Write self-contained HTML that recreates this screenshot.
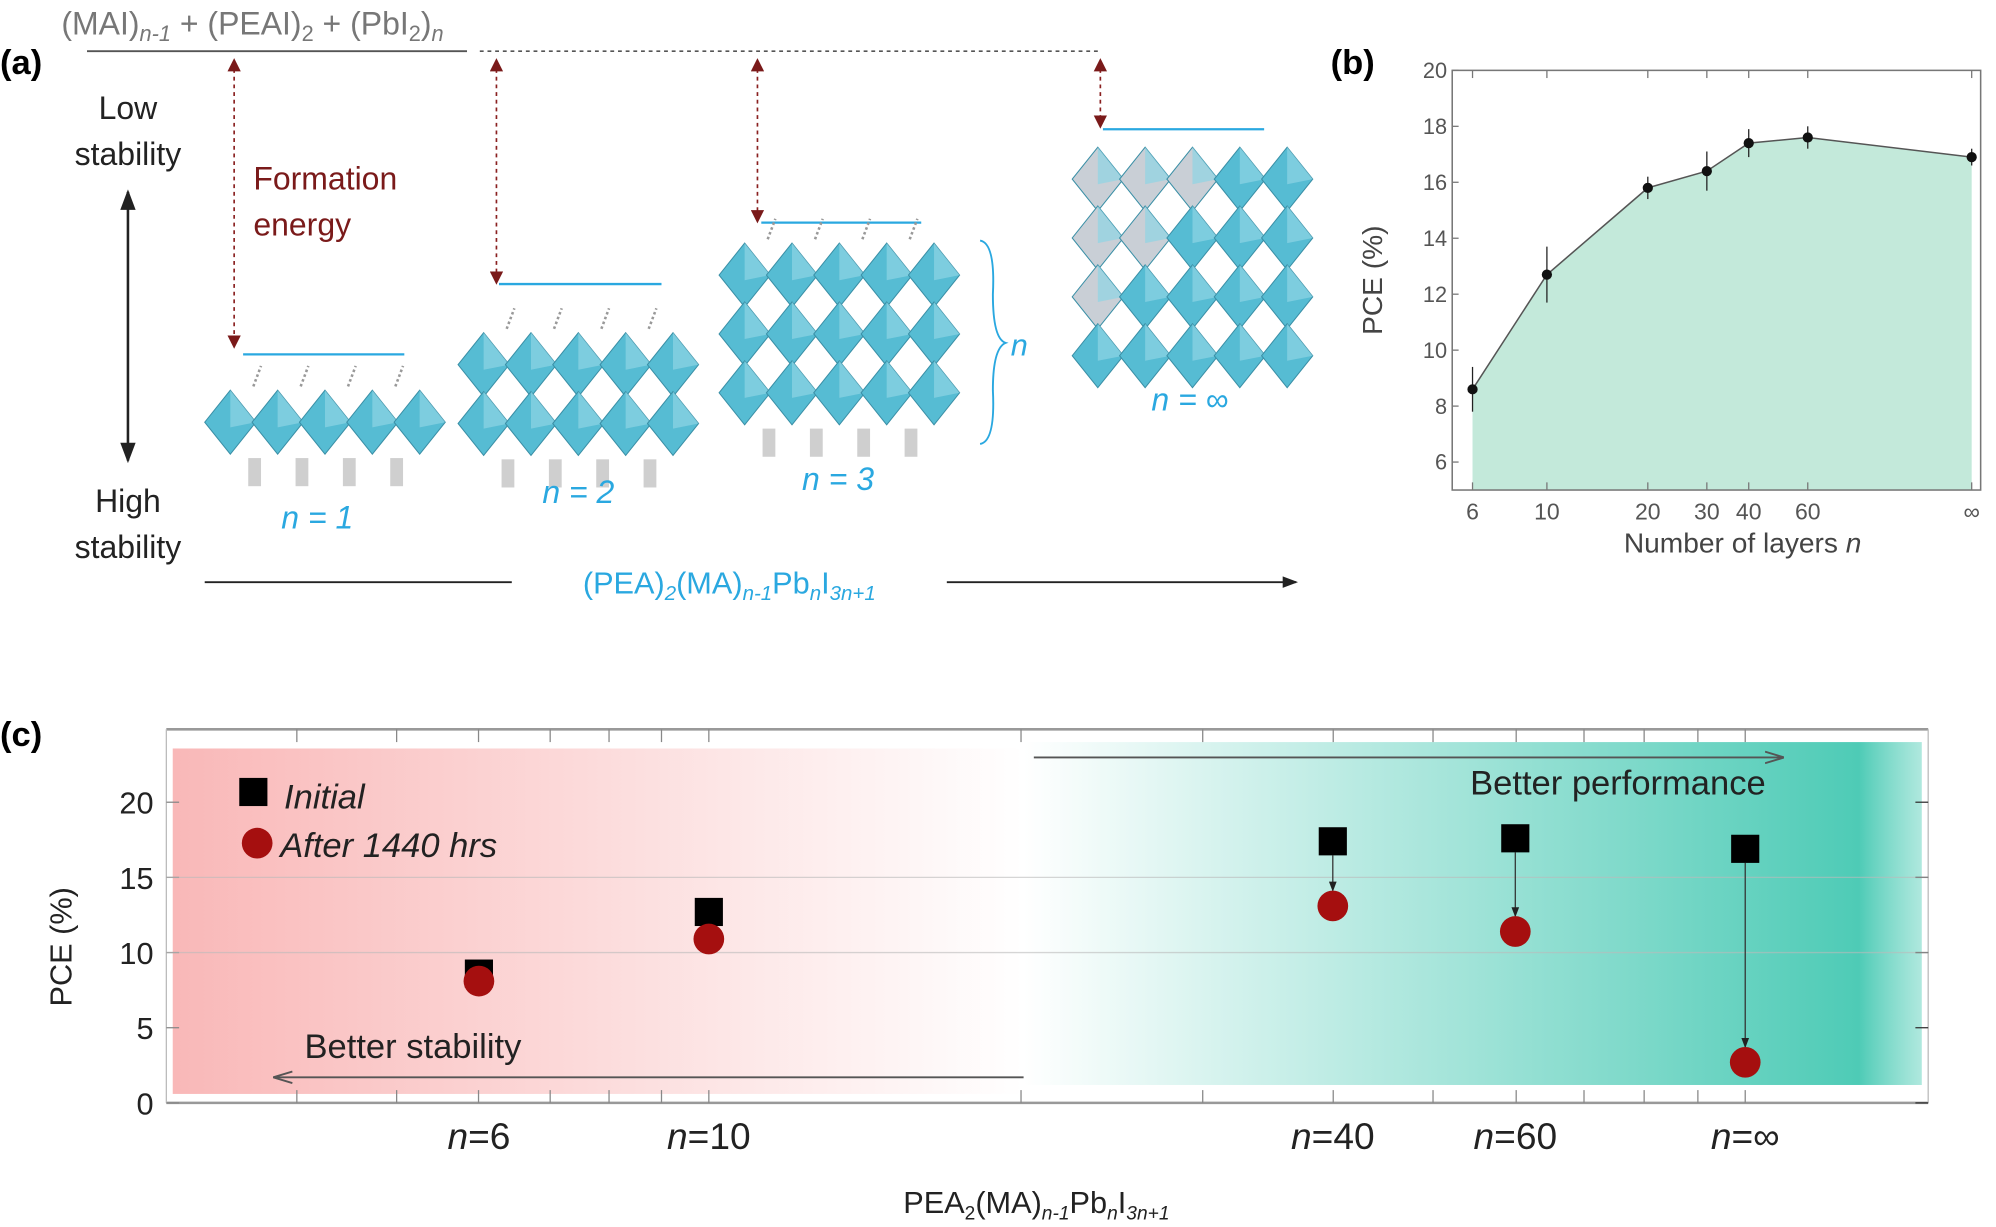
<!DOCTYPE html>
<html><head><meta charset="utf-8"><style>
html,body{margin:0;padding:0;background:#fff;}
svg{display:block;font-family:"Liberation Sans",sans-serif;}
</style></head><body>
<svg id="fig" width="1996" height="1227" viewBox="0 0 1560 959" preserveAspectRatio="none">
<defs>
<linearGradient id="redg" x1="0" x2="1" y1="0" y2="0"><stop offset="0" stop-color="#f9b8b8"/><stop offset="1" stop-color="#ffffff"/></linearGradient>
<linearGradient id="greeng" x1="0" x2="1" y1="0" y2="0"><stop offset="0" stop-color="#ffffff"/><stop offset="0.93" stop-color="#4ecbb6"/><stop offset="1" stop-color="#7ad9c8" stop-opacity="0.6"/></linearGradient>
<marker id="arrDR" markerWidth="8" markerHeight="8" refX="6" refY="4" orient="auto-start-reverse"><path d="M0,0 L8,4 L0,8 Z" fill="#7a1a1a"/></marker>
<marker id="arrK" markerWidth="8" markerHeight="8" refX="7" refY="4" orient="auto-start-reverse"><path d="M0,1 L8,4 L0,7 Z" fill="#222"/></marker>
<marker id="arrG" markerWidth="10" markerHeight="8" refX="9" refY="4" orient="auto"><path d="M0,1 L10,4 L0,7" fill="none" stroke="#555" stroke-width="1"/></marker>
</defs>

<!-- Panel a -->
<g>
<text x="0" y="58" font-size="27" font-weight="bold">(a)</text>
<text x="48" y="27" font-size="25" fill="#777">(MAI)<tspan font-size="17" font-style="italic" dy="5">n-1</tspan><tspan dy="-5"> + (PEAI)</tspan><tspan font-size="17" dy="5">2</tspan><tspan dy="-5"> + (PbI</tspan><tspan font-size="17" dy="5">2</tspan><tspan dy="-5">)</tspan><tspan font-size="17" font-style="italic" dy="5">n</tspan></text>
<line x1="68" y1="40" x2="365" y2="40" stroke="#555" stroke-width="1.5"/>
<line x1="375" y1="40" x2="860" y2="40" stroke="#555" stroke-width="1.2" stroke-dasharray="3,3"/>
<text x="100" y="93" font-size="25" text-anchor="middle" fill="#222">Low</text>
<text x="100" y="129" font-size="25" text-anchor="middle" fill="#222">stability</text>
<line x1="100" y1="150" x2="100" y2="360" stroke="#222" stroke-width="2" marker-start="url(#arrK)" marker-end="url(#arrK)"/>
<text x="100" y="400" font-size="25" text-anchor="middle" fill="#222">High</text>
<text x="100" y="436" font-size="25" text-anchor="middle" fill="#222">stability</text>
<text x="198" y="148" font-size="25" fill="#7a1a1a">Formation</text>
<text x="198" y="184" font-size="25" fill="#7a1a1a">energy</text>
<g id="energyArrows" stroke="#8a2020" stroke-width="1.3" stroke-dasharray="3,3" fill="none"></g>
<g id="levels"></g>
<g id="crystals"></g>
<text x="248" y="413" font-size="25" fill="#2aa8e0" text-anchor="middle" font-style="italic">n = 1</text>
<text x="452" y="393" font-size="25" fill="#2aa8e0" text-anchor="middle" font-style="italic">n = 2</text>
<text x="655" y="383" font-size="25" fill="#2aa8e0" text-anchor="middle" font-style="italic">n = 3</text>
<text x="930" y="321" font-size="25" fill="#2aa8e0" text-anchor="middle" font-style="italic">n = ∞</text>
<path d="M766,188 Q778,190 776,230 Q776,265 786,268 Q776,272 776,305 Q778,345 766,347" fill="none" stroke="#2aa8e0" stroke-width="1.5"/>
<text x="790" y="278" font-size="24" fill="#2aa8e0" font-style="italic">n</text>
<line x1="160" y1="455" x2="400" y2="455" stroke="#222" stroke-width="1.5"/>
<line x1="740" y1="455" x2="1013" y2="455" stroke="#222" stroke-width="1.5" marker-end="url(#arrK)"/>
<text x="570" y="464" font-size="24" fill="#2aa8e0" text-anchor="middle">(PEA)<tspan font-size="16" font-style="italic" dy="5">2</tspan><tspan dy="-5">(MA)</tspan><tspan font-size="16" font-style="italic" dy="5">n-1</tspan><tspan dy="-5">Pb</tspan><tspan font-size="16" font-style="italic" dy="5">n</tspan><tspan dy="-5">I</tspan><tspan font-size="16" font-style="italic" dy="5">3n+1</tspan></text>
</g>

<!-- Panel b -->
<g>
<text x="1040" y="58" font-size="27" font-weight="bold">(b)</text>
<g id="chartB"></g>
<text transform="translate(1080,219) rotate(-90)" font-size="22" fill="#444" text-anchor="middle">PCE (%)</text>
<text x="1362" y="432" font-size="22" fill="#444" text-anchor="middle">Number of layers <tspan font-style="italic">n</tspan></text>
</g>

<!-- Panel c -->
<g>
<text x="0" y="583" font-size="27" font-weight="bold">(c)</text>
<rect x="135" y="585" width="665" height="270" fill="url(#redg)"/>
<rect x="800" y="580" width="702" height="268" fill="url(#greeng)"/>
<g id="chartC"></g>
<rect x="187" y="608" width="22" height="22" fill="#000"/>
<text x="222" y="632" font-size="27" font-style="italic" fill="#222">Initial</text>
<circle cx="201" cy="659" r="12" fill="#a50f0f"/>
<text x="219" y="670" font-size="27" font-style="italic" fill="#222">After 1440 hrs</text>
<line x1="808" y1="592" x2="1393" y2="592" stroke="#555" stroke-width="1.5" marker-end="url(#arrG)"/>
<text x="1380" y="621" font-size="27" fill="#222" text-anchor="end">Better performance</text>
<text x="238" y="827" font-size="27" fill="#222">Better stability</text>
<line x1="800" y1="842" x2="215" y2="842" stroke="#555" stroke-width="1.5" marker-end="url(#arrG)"/>
<text transform="translate(56,740) rotate(-90)" font-size="24" fill="#222" text-anchor="middle">PCE (%)</text>
<text x="810" y="948" font-size="24" fill="#222" text-anchor="middle">PEA<tspan font-size="15" dy="5">2</tspan><tspan dy="-5">(MA)</tspan><tspan font-size="15" font-style="italic" dy="5">n-1</tspan><tspan dy="-5">Pb</tspan><tspan font-size="15" font-style="italic" dy="5">n</tspan><tspan dy="-5">I</tspan><tspan font-size="15" font-style="italic" dy="5">3n+1</tspan></text>
</g>
</svg>
<script>
// ---- Panel b data ----
const bLayers = [6, 10, 20, 30, 40, 60, 'inf'];
const bPCE = [8.6, 12.7, 15.8, 16.4, 17.4, 17.6, 16.9];
const bErr = [0.8, 1.0, 0.4, 0.7, 0.5, 0.4, 0.3];
const bYTicks = [6, 8, 10, 12, 14, 16, 18, 20];
const bXTickLabels = ['6', '10', '20', '30', '40', '60', '∞'];
// ---- Panel c data ----
const cCategories = ['n=6', 'n=10', 'n=40', 'n=60', 'n=∞'];
const cCatPos = [6, 10, 40, 60, 'inf'];
const cInitial = [8.6, 12.7, 17.4, 17.6, 16.9];
const cAfter = [8.1, 10.9, 13.1, 11.4, 2.7];
const cYTicks = [0, 5, 10, 15, 20];

const NS = 'http://www.w3.org/2000/svg';
function mk(parent, tag, attrs, text) {
  const e = document.createElementNS(NS, tag);
  for (const k in attrs) e.setAttribute(k, attrs[k]);
  if (text !== undefined) e.textContent = text;
  parent.appendChild(e);
  return e;
}

// ---- Panel a decorations ----
const ea = document.getElementById('energyArrows');
[[183, 270], [388, 220], [592, 172], [860, 98]].forEach(function (a) {
  const l = mk(ea, 'line', {x1: a[0], y1: 48, x2: a[0], y2: a[1], 'marker-start': 'url(#arrDR)', 'marker-end': 'url(#arrDR)'});
  
  
});
const lv = document.getElementById('levels');
[[190, 316, 277], [390, 517, 222], [595, 720, 174], [862, 988, 101]].forEach(function (a) {
  const l = mk(lv, 'line', {x1: a[0], x2: a[1], y1: a[2], y2: a[2], stroke: '#2aa8e0', 'stroke-width': 1.8});
  
  
});
const cr = document.getElementById('crystals');
function crystal(x0, y0, rows, cols, gray, organics) {
  const g = mk(cr, 'g', {});
  
  
  for (let r = 0; r < rows; r++) for (let c = 0; c < cols; c++) {
    const cx = x0 + c * 37, cy = y0 + r * 46;
    const fill = gray && (r + c < 3) ? '#c9cfd6' : '#56bcd3';
    mk(g, 'path', {d: `M${cx},${cy-25} L${cx+20},${cy} L${cx},${cy+25} L${cx-20},${cy} Z`, fill: fill, stroke: '#3a8fa6', 'stroke-width': 0.8});
    mk(g, 'path', {d: `M${cx},${cy-25} L${cx+20},${cy} L${cx},${cy+4} Z`, fill: '#8fd4e4', opacity: 0.7});
  }
  if (organics) for (let c = 0; c < cols - 1; c++) {
    mk(g, 'line', {x1: x0 + c * 37 + 18, x2: x0 + c * 37 + 24, y1: y0 - 28, y2: y0 - 44, stroke: '#999', 'stroke-width': 2, 'stroke-dasharray': '2,2'});
    mk(g, 'rect', {x: x0 + c * 37 + 14, y: y0 + (rows - 1) * 46 + 28, width: 10, height: 22, fill: '#bbb', opacity: 0.7});
  }
}
crystal(180, 330, 1, 5, false, true);
crystal(378, 285, 2, 5, false, true);
crystal(582, 215, 3, 5, false, true);
crystal(858, 140, 4, 5, true, false);

// ---- Panel b chart ----
(function () {
  const g = document.getElementById('chartB');
  const L = 1135, R = 1548, T = 55, B = 383, yMin = 5, yMax = 20;
  const y = v => B - (v - yMin) / (yMax - yMin) * (B - T);
  const x = n => n === 'inf' ? 1541 : 1209 + (Math.log10(n) - 1) * 262;
  const pts = bLayers.map((n, i) => [x(n), y(bPCE[i])]);
  let d = `M${pts[0][0]},${B} ` + pts.map(p => `L${p[0]},${p[1]}`).join(' ') + ` L${pts[pts.length-1][0]},${B} Z`;
  const area = mk(g, 'path', {d: d, fill: '#c3e9da'});
  
  
  const line = mk(g, 'polyline', {points: pts.map(p => p.join(',')).join(' '), fill: 'none', stroke: '#555', 'stroke-width': 1.2});
  
  
  mk(g, 'rect', {x: L, y: T, width: R - L, height: B - T, fill: 'none', stroke: '#777', 'stroke-width': 1.2});
  bYTicks.forEach(t => {
    mk(g, 'line', {x1: L, x2: L + 5, y1: y(t), y2: y(t), stroke: '#777'});
    const tl = mk(g, 'text', {x: L - 4, y: y(t) + 6, 'font-size': 17, fill: '#555', 'text-anchor': 'end'}, t);
    
    
  });
  bLayers.forEach((n, i) => {
    mk(g, 'line', {x1: x(n), x2: x(n), y1: B, y2: B - 6, stroke: '#777'});
    mk(g, 'line', {x1: x(n), x2: x(n), y1: T, y2: T + 6, stroke: '#777'});
    const tl = mk(g, 'text', {x: x(n), y: B + 23, 'font-size': 18, fill: '#555', 'text-anchor': 'middle'}, bXTickLabels[i]);
    
    
    const eb = mk(g, 'line', {x1: x(n), x2: x(n), y1: y(bPCE[i] + bErr[i]), y2: y(bPCE[i] - bErr[i]), stroke: '#222', 'stroke-width': 1});
    
    
    const p = mk(g, 'circle', {cx: x(n), cy: y(bPCE[i]), r: 4, fill: '#111'});
    
    
  });
})();

// ---- Panel c chart ----
(function () {
  const g = document.getElementById('chartC');
  const L = 130, R = 1507, T = 570, B = 862, yMin = 0, yMax = 20, y20 = 627, y0 = 862;
  const y = v => y0 - (v - yMin) / (yMax - yMin) * (y0 - y20);
  const x = n => n === 'inf' ? 1364 : 554 + (Math.log10(n) - 1) * 810;
  mk(g, 'line', {x1: L, x2: R, y1: T, y2: T, stroke: '#999', 'stroke-width': 2});
  mk(g, 'line', {x1: L, x2: R, y1: B, y2: B, stroke: '#999', 'stroke-width': 2});
  mk(g, 'line', {x1: L, x2: L, y1: T, y2: B, stroke: '#bbb', 'stroke-width': 1});
  mk(g, 'line', {x1: R, x2: R, y1: T, y2: B, stroke: '#bbb', 'stroke-width': 1});
  [232, 310, 374, 430, 476, 517, 554, 798, 940, 1042, 1120, 1185, 1238, 1285, 1327, 1364].forEach(tx => {
    mk(g, 'line', {x1: tx, x2: tx, y1: T, y2: T + 10, stroke: '#888'});
    mk(g, 'line', {x1: tx, x2: tx, y1: B, y2: B - 10, stroke: '#888'});
  });
  cYTicks.forEach(t => {
    mk(g, 'line', {x1: L, x2: L + 10, y1: y(t), y2: y(t), stroke: '#888'});
    mk(g, 'line', {x1: R - 10, x2: R, y1: y(t), y2: y(t), stroke: '#333'});
    if (t === 10 || t === 15) mk(g, 'line', {x1: L, x2: R, y1: y(t), y2: y(t), stroke: '#bbb', 'stroke-width': 1, opacity: 0.6});
    const tl = mk(g, 'text', {x: L - 10, y: y(t) + 9, 'font-size': 24, fill: '#222', 'text-anchor': 'end'}, t);
    
    
  });
  cCatPos.forEach((n, i) => {
    const tl = mk(g, 'text', {x: x(n), y: 898, 'font-size': 29, fill: '#222', 'text-anchor': 'middle'});
    
    
    mk(tl, 'tspan', {'font-style': 'italic'}, 'n');
    mk(tl, 'tspan', {}, cCategories[i].slice(1));
    if (cInitial[i] - cAfter[i] > 2) {
      const ar = mk(g, 'line', {x1: x(n), x2: x(n), y1: y(cInitial[i]) + 11, y2: y(cAfter[i]) - 12, stroke: '#333', 'stroke-width': 1, 'marker-end': 'url(#arrK)'});
      
      
    }
    const sq = mk(g, 'rect', {x: x(n) - 11, y: y(cInitial[i]) - 11, width: 22, height: 22, fill: '#000'});
    
    
    const ci = mk(g, 'circle', {cx: x(n), cy: y(cAfter[i]), r: 12, fill: '#a50f0f'});
    
    
  });
})();
</script>
</body></html>
